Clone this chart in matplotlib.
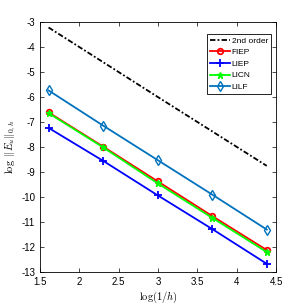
import numpy as np
import matplotlib.pyplot as plt

x = [1.609, 2.303, 2.996, 3.689, 4.382]
order2 = [-3.22, -4.61, -6.0, -7.38, -8.76]
fiep = [-6.62, -7.99, -9.38, -10.77, -12.13]
liep = [-7.24, -8.56, -9.94, -11.29, -12.68]
licn = [-6.65, -8.02, -9.46, -10.84, -12.21]
lilf = [-5.74, -7.15, -8.53, -9.91, -11.31]

plt.rcParams['mathtext.fontset'] = 'cm'
plt.rcParams['axes.unicode_minus'] = False
plt.rcParams['font.family'] = ['Liberation Sans', 'DejaVu Sans']
fig = plt.figure(figsize=(3.05, 3.05), dpi=100)
ax = fig.add_axes([0.131, 0.109, 0.774, 0.819])

ax.plot(x, order2, color='black', lw=1.3, dashes=(3, 1.2, 1, 1.2), label='2nd order')
ax.plot(x, fiep, '-o', color='red', lw=1.3, ms=4, mfc='none', mew=1.3, label='FIEP')
ax.plot(x, liep, '-+', color='blue', lw=1.3, ms=6, mew=1.3, label='LIEP')
ax.plot(x, licn, '-*', color='#00ff00', lw=1.3, ms=5, label='LICN')
ax.plot(x, lilf, '-d', color='#0072bd', lw=1.3, ms=5, mfc='none', mew=1.0, label='LILF')

ax.set_xlim(1.5, 4.5)
ax.set_ylim(-13, -3)
ax.set_xticks(np.arange(1.5, 4.51, 0.5))
ax.set_xticklabels(['1.5', '2', '2.5', '3', '3.5', '4', '4.5'])
ax.set_yticks(np.arange(-13, -2.9, 1))
ax.tick_params(direction='in', top=True, right=True, labelsize=7, length=3, width=0.5)
for s in ax.spines.values():
    s.set_linewidth(0.6)
ax.set_xlabel(r'$\log(1/h)$', fontsize=7.5, labelpad=2)
ax.set_ylabel(r'$\log\ \|E_u\|_{0,h}$', fontsize=7.5, labelpad=2)

leg = ax.legend(loc='upper right', fontsize=6, fancybox=False, edgecolor='black',
                framealpha=1, handlelength=2.4, borderpad=0.35, labelspacing=0.45,
                handletextpad=0.2, borderaxespad=0, bbox_to_anchor=(0.979, 0.952))
leg.get_frame().set_linewidth(0.6)

fig.savefig('out.png', dpi=100)
